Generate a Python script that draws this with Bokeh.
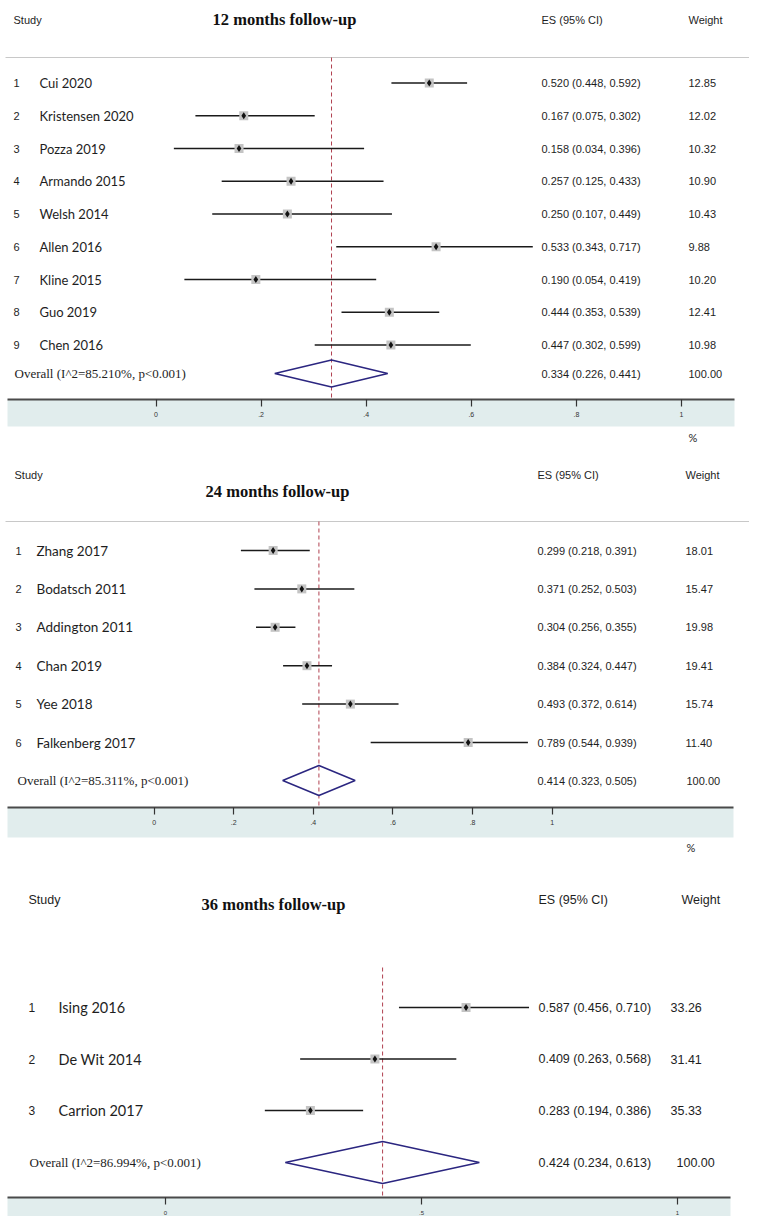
from bokeh.plotting import figure
from bokeh.models import Range1d, LinearAxis, FixedTicker
from bokeh.layouts import column
from bokeh.core.properties import value
from bokeh.embed import file_html
from bokeh.resources import INLINE

# ---------------- data ----------------
title_12 = "12 months follow-up"
studies_12 = ["Cui 2020", "Kristensen 2020", "Pozza 2019", "Armando 2015", "Welsh 2014",
              "Allen 2016", "Kline 2015", "Guo 2019", "Chen 2016"]
es_12 = [0.520, 0.167, 0.158, 0.257, 0.250, 0.533, 0.190, 0.444, 0.447]
lo_12 = [0.448, 0.075, 0.034, 0.125, 0.107, 0.343, 0.054, 0.353, 0.302]
hi_12 = [0.592, 0.302, 0.396, 0.433, 0.449, 0.717, 0.419, 0.539, 0.599]
wt_12 = [12.85, 12.02, 10.32, 10.90, 10.43, 9.88, 10.20, 12.41, 10.98]
overall_12 = [0.334, 0.226, 0.441]
i2_12 = 85.210
ticks_12 = [0.0, 0.2, 0.4, 0.6, 0.8, 1.0]
ticklabels_12 = ["0", ".2", ".4", ".6", ".8", "1"]

title_24 = "24 months follow-up"
studies_24 = ["Zhang 2017", "Bodatsch 2011", "Addington 2011", "Chan 2019", "Yee 2018", "Falkenberg 2017"]
es_24 = [0.299, 0.371, 0.304, 0.384, 0.493, 0.789]
lo_24 = [0.218, 0.252, 0.256, 0.324, 0.372, 0.544]
hi_24 = [0.391, 0.503, 0.355, 0.447, 0.614, 0.939]
wt_24 = [18.01, 15.47, 19.98, 19.41, 15.74, 11.40]
overall_24 = [0.414, 0.323, 0.505]
i2_24 = 85.311
ticks_24 = [0.0, 0.2, 0.4, 0.6, 0.8, 1.0]
ticklabels_24 = ["0", ".2", ".4", ".6", ".8", "1"]

title_36 = "36 months follow-up"
studies_36 = ["Ising 2016", "De Wit 2014", "Carrion 2017"]
es_36 = [0.587, 0.409, 0.283]
lo_36 = [0.456, 0.263, 0.194]
hi_36 = [0.710, 0.568, 0.386]
wt_36 = [33.26, 31.41, 35.33]
overall_36 = [0.424, 0.234, 0.613]
i2_36 = 86.994
ticks_36 = [0.0, 0.5, 1.0]
ticklabels_36 = ["0", ".5", "1"]

p_text = "p<0.001"
col_headers = ["Study", "ES (95% CI)", "Weight"]
total_weight = 100.00

# ---------------- layout ----------------
PAGE_L, PAGE_R = 0, 749
SANS = "Liberation Sans"
SERIF = "Liberation Serif"
NAMEF = "Lato"
TXT = "#1e1e1e"


def make_panel(title, studies, es, lo, hi, wt, overall, i2, ticks, ticklabels, L):
    top, bottom = L["top"], L["bottom"]
    x0, x1 = L["x0"], L["x1"]
    sc = x1 - x0
    p = figure(width=PAGE_R - PAGE_L, height=bottom - top,
               x_range=Range1d((PAGE_L - x0) / sc, (PAGE_R - x0) / sc),
               y_range=Range1d(bottom, top),
               output_backend="svg", toolbar_location=None, min_border=0,
               x_axis_type=None, y_axis_type=None)
    p.extra_x_ranges = {"px": Range1d(PAGE_L, PAGE_R)}
    p.outline_line_color = None
    p.background_fill_color = "white"

    n = len(studies)
    ys = [L["row_top"] + L["row_step"] * i for i in range(n)]

    # axis band
    p.quad(left=[L["band_l"]], right=[L["band_r"]], top=[L["band_top"]], bottom=[L["band_bot"]],
           x_range_name="px", fill_color="#E1EDED", line_color=None)
    ax = LinearAxis(fixed_location=L["band_top"],
                    ticker=FixedTicker(ticks=ticks),
                    major_label_overrides={t: s for t, s in zip(ticks, ticklabels)},
                    bounds=((L["band_l"] - x0) / sc, (L["band_r"] - x0) / sc),
                    major_tick_in=0, major_tick_out=7, minor_tick_in=0, minor_tick_out=0,
                    axis_line_color="#4a4a4a", axis_line_width=1.8,
                    major_tick_line_color="#333333", major_tick_line_width=1.2,
                    major_label_text_font=SANS, major_label_text_font_size=L["tick_fs"],
                    major_label_text_color="#333333", major_label_standoff=L["standoff"])
    p.add_layout(ax, "below")

    # header rule
    if L["line_y"] is not None:
        p.segment(x0=[5], x1=[760], y0=[L["line_y"]], y1=[L["line_y"]], x_range_name="px",
                  line_color="#C8C8C8", line_width=1)

    # pooled estimate reference line
    p.segment(x0=[overall[0]], x1=[overall[0]], y0=[L["dash_top"]], y1=[L["band_top"]],
              line_color="#B04050", line_width=1, line_dash="4 3")

    # CIs and markers
    p.segment(x0=lo, x1=hi, y0=ys, y1=ys, line_color="#1a1a1a", line_width=1.5)
    p.scatter(es, ys, marker="square", size=9, fill_color="#C4C4C4", line_color=None)
    p.scatter(es, ys, marker="diamond", size=7, fill_color="#111111", line_color=None)

    # overall diamond
    oy, h = L["over_y"], L["dia_h"]
    p.patch(x=[overall[1], overall[0], overall[2], overall[0]],
            y=[oy, oy - h, oy, oy + h],
            fill_color=None, line_color="#2B2680", line_width=1.5)

    # headers
    hy = L["head_y"]
    p.text(x=[L["study_x"], L["es_x"], L["wh_x"]], y=[hy] * 3, text=col_headers,
           x_range_name="px", text_font=value(SANS), text_font_size=L["head_fs"],
           text_baseline="middle", text_color=TXT)
    p.text(x=[L["title_x"]], y=[L["title_y"]], text=[title], x_range_name="px",
           text_font=value(SERIF), text_font_style="bold", text_font_size="16.5px",
           text_align="center", text_baseline="middle", text_color="#111111")

    # rows
    p.text(x=[L["num_x"]] * n, y=ys, text=[str(i + 1) for i in range(n)], x_range_name="px",
           text_font=value(SANS), text_font_size=L["num_fs"], text_baseline="middle", text_color=TXT)
    p.text(x=[L["name_x"]] * n, y=ys, text=studies, x_range_name="px",
           text_font=value(NAMEF), text_font_size=L["name_fs"], text_baseline="middle", text_color=TXT)
    p.text(x=[L["es_x"]] * n, y=ys,
           text=[f"{e:.3f} ({a:.3f}, {b:.3f})" for e, a, b in zip(es, lo, hi)],
           x_range_name="px", text_font=value(SANS), text_font_size=L["es_fs"],
           text_baseline="middle", text_color=TXT)
    p.text(x=[L["w_x"]] * n, y=ys, text=[f"{w:.2f}" for w in wt], x_range_name="px",
           text_font=value(SANS), text_font_size=L["es_fs"], text_baseline="middle", text_color=TXT)

    # overall row
    p.text(x=[L["over_x"]], y=[oy], text=[f"Overall (I^2={i2:.3f}%, {p_text})"], x_range_name="px",
           text_font=value(SERIF), text_font_size="13px", text_baseline="middle", text_color=TXT)
    p.text(x=[L["es_x"]], y=[oy],
           text=[f"{overall[0]:.3f} ({overall[1]:.3f}, {overall[2]:.3f})"], x_range_name="px",
           text_font=value(SANS), text_font_size=L["es_fs"], text_baseline="middle", text_color=TXT)
    p.text(x=[L["ow_x"]], y=[oy], text=[f"{total_weight:.2f}"], x_range_name="px",
           text_font=value(SANS), text_font_size=L["es_fs"], text_baseline="middle", text_color=TXT)

    if L["pct_y"] is not None:
        p.text(x=[L["pct_x"]], y=[L["pct_y"]], text=["%"], x_range_name="px",
               text_font=value(NAMEF), text_font_size="11px", text_baseline="middle", text_color=TXT)
    return p


L12 = dict(top=0, bottom=451, x0=155.5, x1=681, head_y=19, title_y=19, title_x=284,
           study_x=13, es_x=541, w_x=688, wh_x=688, ow_x=688, line_y=57, dash_top=57,
           row_top=82.5, row_step=32.75, num_x=13, name_x=39, over_x=14, over_y=373,
           dia_h=13.5, band_top=399, band_bot=426, band_l=7, band_r=734, pct_y=437, pct_x=688,
           name_fs="13px", es_fs="11px", num_fs="11px", head_fs="11px", tick_fs="7px", standoff=5)
L24 = dict(top=451, bottom=862, x0=153.6, x1=551.7, head_y=474, title_y=491, title_x=277,
           study_x=14, es_x=537, w_x=685, wh_x=685, ow_x=686, line_y=521, dash_top=521,
           row_top=550, row_step=38.4, num_x=15, name_x=36, over_x=17, over_y=780,
           dia_h=15, band_top=807, band_bot=837, band_l=7, band_r=733, pct_y=847, pct_x=686,
           name_fs="13.5px", es_fs="11px", num_fs="11px", head_fs="11px", tick_fs="7px", standoff=5)
L36 = dict(top=862, bottom=1216, x0=165, x1=677, head_y=899, title_y=904, title_x=273,
           study_x=28, es_x=538, w_x=670, wh_x=681, ow_x=676, line_y=None, dash_top=967,
           row_top=1007, row_step=51.5, num_x=28, name_x=58, over_x=29, over_y=1162,
           dia_h=21, band_top=1197, band_bot=1230, band_l=7, band_r=730, pct_y=None, pct_x=0,
           name_fs="14.5px", es_fs="12.5px", num_fs="12px", head_fs="12.5px", tick_fs="6px", standoff=6)

p1 = make_panel(title_12, studies_12, es_12, lo_12, hi_12, wt_12, overall_12, i2_12, ticks_12, ticklabels_12, L12)
p2 = make_panel(title_24, studies_24, es_24, lo_24, hi_24, wt_24, overall_24, i2_24, ticks_24, ticklabels_24, L24)
p3 = make_panel(title_36, studies_36, es_36, lo_36, hi_36, wt_36, overall_36, i2_36, ticks_36, ticklabels_36, L36)

layout = column(p1, p2, p3, spacing=0)
open("out.html", "w").write(file_html(layout, INLINE))
